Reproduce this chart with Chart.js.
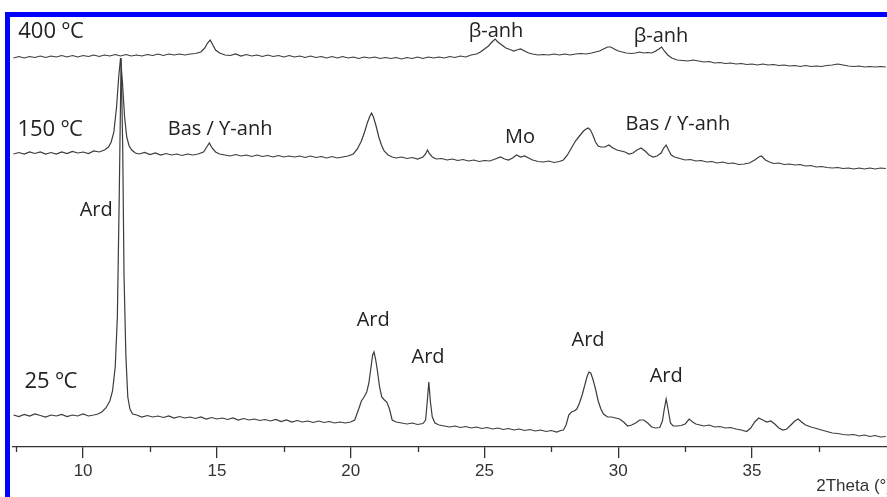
<!DOCTYPE html>
<html>
<head>
<meta charset="utf-8">
<script src="https://cdn.jsdelivr.net/npm/chart.js@4.4.0/dist/chart.umd.min.js"></script>
<style>
    html, body { margin: 0; padding: 0; background: #fff; overflow: hidden; width: 887px; height: 497px; }
    #frame { position: absolute; left: 5px; top: 12px; width: 2000px; height: 2000px;
             border-top: 5px solid #0000ff; border-left: 5px solid #0000ff; }
    #myChart { position: absolute; left: 0; top: 0; }
</style>
</head>
<body>
<div id="frame"></div>
<canvas id="myChart" width="892" height="497"></canvas>
<script>
// XRD patterns, offset intensities (arbitrary units) vs 2Theta
const pattern25 = [
    [7.4,32],[7.6,30.5],[7.8,32.5],[8.0,31],[8.2,33],[8.4,31.5],[8.6,30],[8.8,32],[9.0,31],[9.2,32.5],
    [9.4,30.5],[9.6,32],[9.8,31],[10.0,33],[10.2,31],[10.4,32],[10.55,33],[10.7,35],[10.85,39],[11.0,46],
    [11.1,56],[11.2,80],[11.28,130],[11.35,250],[11.42,389],[11.48,300],[11.53,170],[11.6,90],[11.67,50],[11.75,38],
    [11.85,33],[12.0,32],[12.2,30],[12.4,31.5],[12.6,30],[12.8,31],[13.0,29.5],[13.2,31],[13.4,29],[13.6,30.5],
    [13.8,29],[14.0,30],[14.2,28.5],[14.4,30],[14.6,28],[14.8,29.5],[15.0,28],[15.2,29],[15.4,27.5],[15.6,29],
    [15.8,27],[16.0,28.5],[16.2,27],[16.4,28],[16.6,26.5],[16.8,27.5],[17.0,26],[17.2,27.5],[17.4,25.5],[17.6,27],
    [17.8,25],[18.0,26.5],[18.2,25],[18.4,26],[18.6,24.5],[18.8,26],[19.0,24.5],[19.2,25.5],[19.4,24],[19.6,25],
    [19.8,24],[20.0,25],[20.15,27],[20.3,38],[20.4,46],[20.5,50],[20.6,55],[20.68,64],[20.75,78],[20.82,92],
    [20.87,95],[20.93,88],[21.0,76],[21.08,60],[21.16,50],[21.26,47],[21.35,45],[21.45,38],[21.55,27],[21.7,25],
    [21.9,24],[22.1,23],[22.3,24],[22.5,22.5],[22.7,23.5],[22.8,27],[22.86,45],[22.92,65],[22.98,45],[23.05,30],
    [23.15,24],[23.3,22],[23.5,21],[23.7,20],[23.9,21],[24.1,19.5],[24.3,20.5],[24.5,19],[24.7,20],[24.9,18.5],
    [25.1,19.5],[25.3,18],[25.5,19],[25.7,17.5],[25.9,18.5],[26.1,17],[26.3,18],[26.5,16.5],[26.7,17.5],[26.9,16],
    [27.1,17],[27.3,15.5],[27.5,16.5],[27.7,15],[27.85,16.5],[27.95,17],[28.05,22],[28.15,32],[28.25,35],[28.35,36],
    [28.45,38],[28.55,44],[28.65,52],[28.75,62],[28.83,70],[28.9,75],[28.97,74],[29.05,68],[29.15,58],[29.25,46],
    [29.35,38],[29.45,33],[29.6,30],[29.75,30],[29.9,29],[30.05,28],[30.2,25],[30.35,21],[30.5,22],[30.65,24],
    [30.8,27],[30.95,27],[31.1,24],[31.25,20],[31.4,19],[31.55,19.5],[31.65,26],[31.72,38],[31.79,48],[31.86,38],
    [31.95,24],[32.05,21],[32.2,21],[32.35,21.5],[32.5,23],[32.65,28],[32.78,25],[32.9,23],[33.05,22],[33.2,21],
    [33.4,22],[33.6,20],[33.8,20.5],[34.0,19],[34.2,19.5],[34.4,18],[34.6,17],[34.8,15.5],[34.95,19],[35.1,25],
    [35.25,29],[35.4,27],[35.55,25],[35.7,26],[35.85,23],[36.0,19],[36.15,17],[36.3,18],[36.45,22],[36.6,26],
    [36.72,28],[36.85,25],[37.0,22],[37.2,20],[37.4,18.5],[37.6,17],[37.8,15.5],[38.0,14],[38.2,13.5],[38.4,12.5],
    [38.6,12],[38.8,12.5],[39.0,11],[39.2,12],[39.4,10.5],[39.6,11.5],[39.8,10],[40.0,10.5]
];

const pattern150 = [
    [7.4,293],[7.6,294.5],[7.8,293],[8.0,295],[8.2,293.5],[8.4,295],[8.6,293],[8.8,294.5],[9.0,293],[9.2,295],
    [9.4,293.5],[9.6,295.5],[9.8,294],[10.0,295],[10.2,293.5],[10.4,296],[10.6,295],[10.8,297],[10.95,300],[11.05,305],
    [11.15,315],[11.25,340],[11.33,370],[11.4,389],[11.47,365],[11.55,330],[11.63,310],[11.72,301],[11.82,297],[11.95,294],
    [12.1,293],[12.3,294.5],[12.5,292.5],[12.7,294],[12.9,292],[13.1,293.5],[13.3,292],[13.5,293],[13.7,291.5],[13.9,293],
    [14.1,292],[14.3,293],[14.5,295],[14.62,300],[14.72,304],[14.82,299],[14.95,295],[15.1,293],[15.3,292],[15.5,291],
    [15.7,292.5],[15.9,291],[16.1,292],[16.3,290.5],[16.5,292],[16.7,290.5],[16.9,291.5],[17.1,290],[17.3,291.5],[17.5,290],
    [17.7,291],[17.9,290],[18.1,291],[18.3,289.5],[18.5,291],[18.7,289.5],[18.9,290.5],[19.1,289],[19.3,290.5],[19.5,289],
    [19.7,290],[19.9,291],[20.1,293],[20.25,298],[20.4,306],[20.52,315],[20.62,324],[20.72,331],[20.78,334],[20.85,330],
    [20.95,321],[21.05,310],[21.15,302],[21.25,296],[21.4,292],[21.55,290],[21.7,289],[21.9,290],[22.1,288.5],[22.3,289.5],
    [22.5,288],[22.7,290],[22.8,293],[22.87,297],[22.95,293],[23.05,290],[23.2,288],[23.4,288.5],[23.6,287],[23.8,288],
    [24.0,286.5],[24.2,287.5],[24.4,286],[24.6,287],[24.8,285.5],[25.0,286.5],[25.2,286],[25.4,288],[25.6,290],[25.75,288],
    [25.9,287],[26.05,289],[26.2,292],[26.35,290],[26.5,291],[26.65,289],[26.8,287],[27.0,285.5],[27.2,285],[27.4,286],
    [27.6,284.5],[27.8,285.5],[27.95,287],[28.1,292],[28.25,299],[28.4,306],[28.55,311],[28.7,316],[28.8,318],[28.88,319],
    [28.96,317],[29.05,312],[29.15,305],[29.25,301],[29.35,300],[29.5,300],[29.65,302],[29.8,299],[29.95,297],[30.1,296],
    [30.25,295],[30.4,293],[30.55,294],[30.7,297],[30.85,299],[31.0,296],[31.15,292],[31.3,290],[31.45,291],[31.6,294],
    [31.7,299],[31.79,302],[31.88,297],[31.98,292],[32.1,290],[32.3,288.5],[32.5,287],[32.7,287.5],[32.9,286],[33.1,286.5],
    [33.3,285],[33.5,285.5],[33.7,284],[33.9,285],[34.1,283.5],[34.3,284],[34.5,282.5],[34.7,283],[34.9,284],[35.1,287],
    [35.25,290],[35.35,291],[35.5,287],[35.65,285],[35.8,283.5],[36.0,284],[36.2,282.5],[36.4,283],[36.6,282],[36.8,282.5],
    [37.0,281],[37.2,281.5],[37.4,280],[37.6,280.5],[37.8,279.5],[38.0,279],[38.2,279.5],[38.4,278.5],[38.6,279],[38.8,278],
    [39.0,279],[39.2,278],[39.4,279],[39.6,278],[39.8,279],[40.0,278.5]
];

const pattern400 = [
    [7.4,389],[7.6,390.5],[7.8,389],[8.0,390.5],[8.2,389.5],[8.4,391],[8.6,389.5],[8.8,391],[9.0,390],[9.2,391.5],
    [9.4,390],[9.6,391.5],[9.8,390],[10.0,391.5],[10.2,390.5],[10.4,392],[10.6,390.5],[10.8,392],[11.0,391],[11.2,392.5],
    [11.4,391],[11.6,392.5],[11.8,391],[12.0,392],[12.2,391],[12.4,392.5],[12.6,391.5],[12.8,393],[13.0,391.5],[13.2,393],
    [13.4,392],[13.6,393],[13.8,392],[14.0,393],[14.2,393.5],[14.4,395],[14.55,399],[14.65,404],[14.75,407],[14.85,402],
    [14.95,397],[15.1,394],[15.3,392],[15.5,391.5],[15.7,393],[15.9,391],[16.1,392.5],[16.3,391],[16.5,392],[16.7,390.5],
    [16.9,392],[17.1,390.5],[17.3,391.5],[17.5,390],[17.7,391.5],[17.9,390],[18.1,391],[18.3,389.5],[18.5,391],[18.7,389.5],
    [18.9,390.5],[19.1,389],[19.3,390.5],[19.5,389],[19.7,390.5],[19.9,389],[20.1,390],[20.3,388.5],[20.5,390],[20.7,389],
    [20.9,390],[21.1,388.5],[21.3,389.5],[21.5,388.5],[21.7,389.5],[21.9,388],[22.1,389.5],[22.3,388.5],[22.5,390],[22.7,388.5],
    [22.9,390],[23.1,389],[23.3,390],[23.5,389],[23.7,390.5],[23.9,389.5],[24.1,391],[24.3,390],[24.5,392],[24.7,393],
    [24.85,395],[25.0,398],[25.15,401],[25.28,405],[25.4,408],[25.5,405],[25.6,403],[25.7,401],[25.8,399],[25.9,398],
    [26.0,397],[26.1,396],[26.2,397],[26.35,398],[26.5,396],[26.65,394],[26.8,393],[27.0,392],[27.2,392.5],[27.4,392],
    [27.6,393],[27.8,392],[28.0,393],[28.2,392],[28.4,393],[28.6,393.5],[28.8,393],[29.0,394],[29.15,395],[29.3,396],
    [29.45,398],[29.6,400],[29.72,400],[29.85,398],[30.0,396],[30.15,395],[30.3,394],[30.5,393.5],[30.65,394],[30.8,395],
    [30.95,394],[31.1,394.5],[31.25,394],[31.4,396],[31.52,398],[31.62,400],[31.72,396],[31.85,392],[32.0,389],[32.2,387],
    [32.4,386.5],[32.6,386],[32.8,387],[33.0,386],[33.2,385],[33.4,385.5],[33.6,384],[33.8,384.5],[34.0,383.5],[34.2,384],
    [34.4,383],[34.6,383.5],[34.8,382.5],[35.0,383],[35.2,382],[35.4,383],[35.6,382],[35.8,382.5],[36.0,381.5],[36.2,382],
    [36.4,381],[36.6,381.5],[36.8,380.5],[37.0,381.5],[37.2,380.5],[37.4,381],[37.6,380.5],[37.8,381.5],[38.0,382],[38.2,383],
    [38.4,382],[38.6,381],[38.8,380.5],[39.0,381],[39.2,380],[39.4,380.5],[39.6,380],[39.8,380.5],[40.0,380]
];

const majorTicks = [10, 15, 20, 25, 30, 35];
const minorTicks = [7.5, 12.5, 17.5, 22.5, 27.5, 32.5, 37.5];

// peak / temperature labels
const labelTexts = ['400 ºC', '150 ºC', '25 ºC', 'Bas / ϒ-anh', 'β-anh', 'β-anh', 'Mo', 'Bas / ϒ-anh',
                    'Ard', 'Ard', 'Ard', 'Ard', 'Ard'];
const labelTheta = [8.80, 8.77, 8.80, 15.12, 25.43, 31.6, 26.33, 32.23, 10.49, 20.84, 22.89, 28.87, 31.79];
const labelLevel = [415, 317, 65, 318, 416, 411, 310, 323, 237, 127, 90, 107, 71];
const labelSize = [22, 22, 22, 20, 20, 20, 20, 20, 20, 20, 20, 20, 20];

function toPoints(arr) {
    return arr.map(function (p) { return { x: p[0], y: p[1] }; });
}

const lineStyle = { showLine: true, pointRadius: 0, borderWidth: 1.2, borderColor: '#3c3c3c', fill: false, tension: 0 };

const peakLabels = {
    id: 'peakLabels',
    afterDatasetsDraw(chart) {
        const ctx = chart.ctx;
        const xs = chart.scales.x, ys = chart.scales.y;
        ctx.save();
        ctx.fillStyle = '#222';
        ctx.textAlign = 'center';
        ctx.textBaseline = 'middle';
        for (var i = 0; i < labelTexts.length; i++) {
            ctx.font = labelSize[i] + 'px "Open Sans", sans-serif';
            ctx.fillText(labelTexts[i], xs.getPixelForValue(labelTheta[i]), ys.getPixelForValue(labelLevel[i]));
        }
        ctx.restore();
    }
};

const minorTickMarks = {
    id: 'minorTickMarks',
    afterDraw(chart) {
        const ctx = chart.ctx;
        const xs = chart.scales.x;
        const y0 = chart.chartArea.bottom;
        ctx.save();
        ctx.strokeStyle = '#333';
        ctx.lineWidth = 1.3;
        for (var i = 0; i < minorTicks.length; i++) {
            var px = Math.round(xs.getPixelForValue(minorTicks[i])) + 0.5;
            ctx.beginPath();
            ctx.moveTo(px, y0);
            ctx.lineTo(px, y0 + 5);
            ctx.stroke();
        }
        ctx.restore();
    }
};

const data = {
    datasets: [
        Object.assign({ label: '25 ºC', data: toPoints(pattern25) }, lineStyle),
        Object.assign({ label: '150 ºC', data: toPoints(pattern150) }, lineStyle),
        Object.assign({ label: '400 ºC', data: toPoints(pattern400) }, lineStyle)
    ]
};

const config = {
    type: 'scatter',
    data: data,
    options: {
        responsive: false,
        animation: false,
        layout: { padding: { left: 13, right: 0, top: 18, bottom: 0 } },
        plugins: { legend: { display: false }, tooltip: { enabled: false } },
        scales: {
            x: {
                type: 'linear',
                min: 7.38,
                max: 40.23,
                afterBuildTicks: function (scale) {
                    scale.ticks = majorTicks.map(function (v) { return { value: v }; });
                },
                afterFit: function (scale) { scale.height = 50; },
                grid: { drawOnChartArea: false, drawTicks: true, tickLength: 11, color: '#333', lineWidth: 1.3 },
                border: { display: true, color: '#333', width: 1.3 },
                ticks: {
                    padding: 3, maxRotation: 0, autoSkip: false, color: '#333',
                    font: { family: '"Liberation Sans", Arial, sans-serif', size: 17 }
                },
                title: {
                    display: true, text: '2Theta (°)', align: 'end', color: '#333',
                    padding: { top: 0, bottom: 0 },
                    font: { family: '"Liberation Sans", Arial, sans-serif', size: 17 }
                }
            },
            y: { display: false, min: 0, max: 429 }
        }
    },
    plugins: [peakLabels, minorTickMarks]
};

var myChart = new Chart(document.getElementById('myChart'), config);
</script>
</body>
</html>
